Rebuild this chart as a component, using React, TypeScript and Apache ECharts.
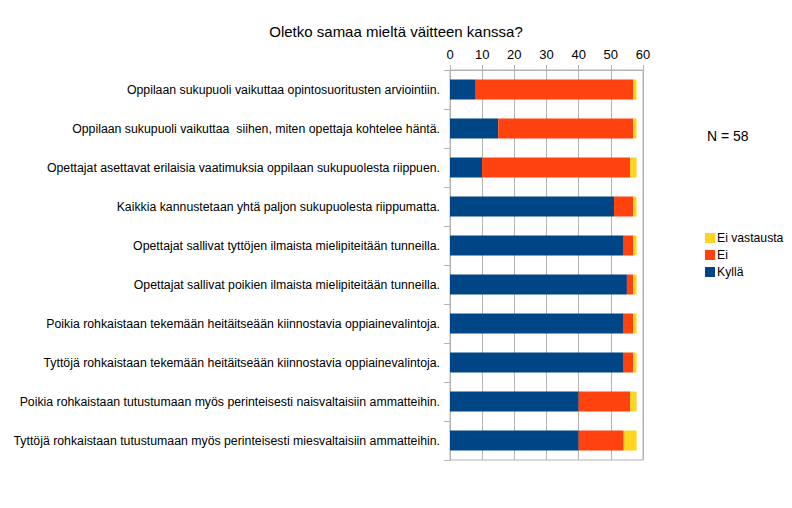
import React, { useEffect, useRef } from "react";
import * as echarts from "echarts";

const categories = [
  "Oppilaan sukupuoli vaikuttaa opintosuoritusten arviointiin.",
  "Oppilaan sukupuoli vaikuttaa  siihen, miten opettaja kohtelee häntä.",
  "Opettajat asettavat erilaisia vaatimuksia oppilaan sukupuolesta riippuen.",
  "Kaikkia kannustetaan yhtä paljon sukupuolesta riippumatta.",
  "Opettajat sallivat tyttöjen ilmaista mielipiteitään tunneilla.",
  "Opettajat sallivat poikien ilmaista mielipiteitään tunneilla.",
  "Poikia rohkaistaan tekemään heitäitseään kiinnostavia oppiainevalintoja.",
  "Tyttöjä rohkaistaan tekemään heitäitseään kiinnostavia oppiainevalintoja.",
  "Poikia rohkaistaan tutustumaan myös perinteisesti naisvaltaisiin ammatteihin.",
  "Tyttöjä rohkaistaan tutustumaan myös perinteisesti miesvaltaisiin ammatteihin.",
];
const kylla = [8, 15, 10, 51, 54, 55, 54, 54, 40, 40];
const ei = [49, 42, 46, 6, 3, 2, 3, 3, 16, 14];
const eiVastausta = [1, 1, 2, 1, 1, 1, 1, 1, 2, 4];
const xTicks = { min: 0, max: 60, interval: 10 };

const FONT = "Liberation Sans, Arial, sans-serif";
const GRAY = "#b3b3b3";

export default function App() {
  const ref = useRef<HTMLDivElement>(null);
  useEffect(() => {
    if (!ref.current) return;
    const chart = echarts.init(ref.current, null, { renderer: "svg" });
    chart.setOption({
      animation: false,
      backgroundColor: "#ffffff",
      textStyle: { fontFamily: FONT },
      title: {
        text: "Oletko samaa mieltä väitteen kanssa?",
        left: 391,
        top: 19,
        textAlign: "center",
        textStyle: { fontFamily: FONT, fontSize: 15, fontWeight: "normal", color: "#000" },
      },
      legend: {
        orient: "vertical",
        left: 700,
        top: 227,
        itemWidth: 10,
        itemHeight: 10,
        itemGap: 5,
        icon: "rect",
        data: ["Ei vastausta", "Ei", "Kyllä"],
        textStyle: { fontFamily: FONT, fontSize: 12.2, color: "#000", padding: [0, 0, 0, -3] },
      },
      graphic: [
        {
          type: "text",
          left: 707,
          top: 129,
          style: { text: "N = 58", fontFamily: FONT, fontSize: 14, fill: "#000" },
        },
      ],
      grid: {
        left: 450,
        top: 70,
        width: 193,
        height: 390,
        show: true,
        borderColor: GRAY,
        borderWidth: 1,
        containLabel: false,
      },
      xAxis: {
        type: "value",
        position: "top",
        min: xTicks.min,
        max: xTicks.max,
        interval: xTicks.interval,
        axisLine: { show: true, lineStyle: { color: GRAY } },
        axisTick: { show: true, length: 5, lineStyle: { color: GRAY } },
        splitLine: { show: true, lineStyle: { color: GRAY } },
        axisLabel: { fontFamily: FONT, fontSize: 13, color: "#000", margin: 9 },
      },
      yAxis: {
        type: "category",
        inverse: true,
        data: categories,
        axisLine: { show: true, lineStyle: { color: GRAY } },
        axisTick: { show: true, length: 6, lineStyle: { color: GRAY } },
        axisLabel: { fontFamily: FONT, fontSize: 12.3, color: "#000", margin: 10 },
      },
      series: [
        { name: "Kyllä", type: "bar", stack: "s", data: kylla, barWidth: 20, itemStyle: { color: "#004586" } },
        { name: "Ei", type: "bar", stack: "s", data: ei, barWidth: 20, itemStyle: { color: "#ff420e" } },
        { name: "Ei vastausta", type: "bar", stack: "s", data: eiVastausta, barWidth: 20, itemStyle: { color: "#ffd320" } },
      ],
    });
    return () => chart.dispose();
  }, []);
  return <div ref={ref} style={{ width: 792, height: 508, position: "absolute", left: 0, top: 0 }} />;
}
